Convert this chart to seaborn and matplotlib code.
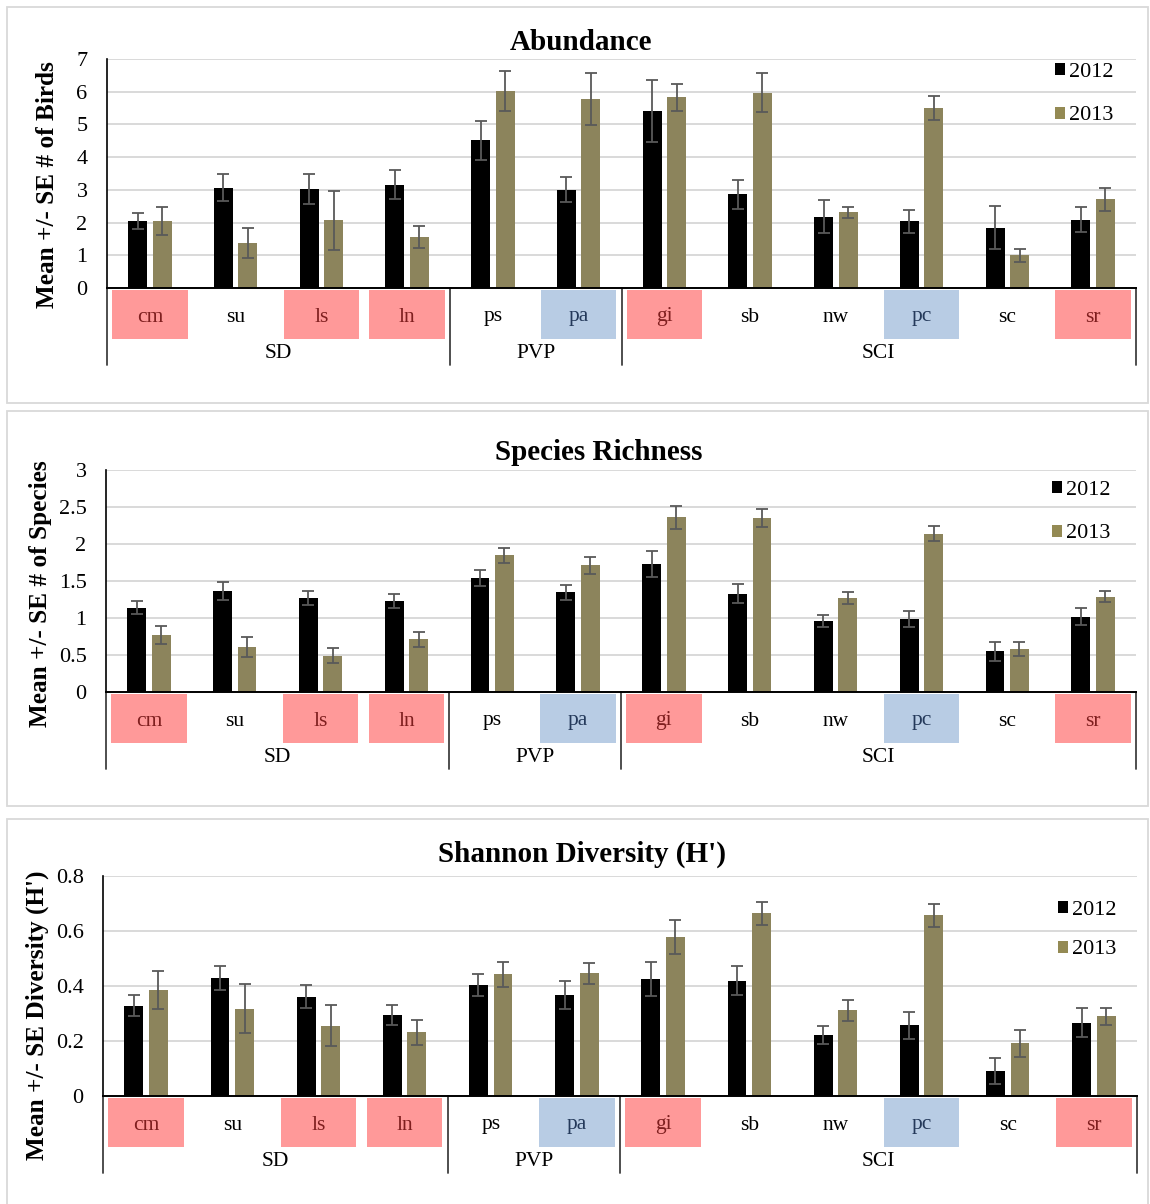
import numpy as np
import pandas as pd
import matplotlib
matplotlib.use("Agg")
import matplotlib.pyplot as plt
import matplotlib.transforms as mtransforms
from matplotlib.patches import Rectangle, Patch
from matplotlib.ticker import FuncFormatter
import seaborn as sns

# ---- data -------------------------------------------------------------
sites = ["cm", "su", "ls", "ln", "ps", "pa", "gi", "sb", "nw", "pc", "sc", "sr"]
regions = ["SD", "PVP", "SCI"]
region_sizes = [4, 2, 6]
years = ["2012", "2013"]
# site label highlight: "r" = red fill, "b" = blue fill, "" = none
site_fill = ["r", "", "r", "r", "", "b", "r", "", "", "b", "", "r"]

abund_2012 = [2.05, 3.07, 3.04, 3.16, 4.51, 3.01, 5.41, 2.86, 2.18, 2.04, 1.84, 2.09]
abund_2012_se = [0.25, 0.41, 0.46, 0.44, 0.61, 0.38, 0.94, 0.44, 0.50, 0.35, 0.66, 0.39]
abund_2013 = [2.05, 1.37, 2.07, 1.57, 6.02, 5.78, 5.83, 5.97, 2.31, 5.50, 1.00, 2.71]
abund_2013_se = [0.42, 0.45, 0.91, 0.34, 0.61, 0.79, 0.42, 0.60, 0.17, 0.36, 0.20, 0.35]

rich_2012 = [1.14, 1.36, 1.27, 1.23, 1.54, 1.35, 1.73, 1.33, 0.96, 0.99, 0.55, 1.02]
rich_2012_se = [0.09, 0.12, 0.09, 0.09, 0.11, 0.10, 0.18, 0.13, 0.08, 0.11, 0.13, 0.12]
rich_2013 = [0.77, 0.61, 0.49, 0.71, 1.85, 1.71, 2.36, 2.35, 1.27, 2.14, 0.58, 1.29]
rich_2013_se = [0.12, 0.14, 0.10, 0.10, 0.10, 0.12, 0.16, 0.12, 0.08, 0.10, 0.09, 0.08]

shan_2012 = [0.328, 0.429, 0.361, 0.295, 0.404, 0.367, 0.426, 0.420, 0.222, 0.257, 0.091, 0.267]
shan_2012_se = [0.038, 0.044, 0.041, 0.037, 0.041, 0.051, 0.063, 0.052, 0.034, 0.049, 0.047, 0.053]
shan_2013 = [0.385, 0.317, 0.256, 0.232, 0.443, 0.446, 0.578, 0.665, 0.311, 0.657, 0.191, 0.290]
shan_2013_se = [0.070, 0.089, 0.074, 0.045, 0.046, 0.039, 0.062, 0.042, 0.039, 0.043, 0.048, 0.031]

# ---- style ------------------------------------------------------------
sns.set_theme(style="white")
plt.rcParams["font.family"] = ["Liberation Serif", "DejaVu Serif"]
plt.rcParams["axes.unicode_minus"] = False
plt.rcParams["text.color"] = "#000000"
plt.rcParams["axes.labelcolor"] = "#000000"
plt.rcParams["ytick.color"] = "#000000"
plt.rcParams["xtick.color"] = "#000000"

BAR_COLORS = {"2012": "#000000", "2013": "#948A54"}
FILL = {"r": "#FF9999", "b": "#B8CCE4"}
FILL_TEXT = {"r": "#7F1F1F", "b": "#24395A", "": "#000000"}
GRID = "#D9D9D9"
ERR = "#595959"

W, H = 1150, 1204
fig = plt.figure(figsize=(W / 100, H / 100), dpi=100)


def px_box(x0, y0, x1, y1):
    """Figure-fraction rectangle from pixel corners (top-left origin)."""
    return [x0 / W, 1 - y1 / H, (x1 - x0) / W, (y1 - y0) / H]


panels = [
    dict(title="Abundance", ylabel="Mean +/- SE # of Birds",
         v12=abund_2012, s12=abund_2012_se, v13=abund_2013, s13=abund_2013_se,
         yticks=np.arange(0, 8, 1), ymax=7,
         frame=(7, 7, 1148, 403), axes=(107, 59, 1136, 288),
         title_xy=(581, 42), ylabel_xy=(48, 185), legend_xy=(1055, 63),
         lspace=1.1),
    dict(title="Species Richness", ylabel="Mean +/- SE # of Species",
         v12=rich_2012, s12=rich_2012_se, v13=rich_2013, s13=rich_2013_se,
         yticks=np.arange(0, 3.01, 0.5), ymax=3,
         frame=(7, 411, 1148, 806), axes=(106, 470, 1136, 692),
         title_xy=(599, 453), ylabel_xy=(41, 594), legend_xy=(1052, 481),
         lspace=1.1),
    dict(title="Shannon Diversity (H')", ylabel="Mean +/- SE Diversity (H')",
         v12=shan_2012, s12=shan_2012_se, v13=shan_2013, s13=shan_2013_se,
         yticks=np.arange(0, 0.81, 0.2), ymax=0.8,
         frame=(7, 819, 1148, 1215), axes=(103, 876, 1137, 1096),
         title_xy=(582, 854), ylabel_xy=(37, 1015), legend_xy=(1058, 901),
         lspace=0.92),
]

for p in panels:
    # light outline around each chart block
    fx0, fy0, fx1, fy1 = p["frame"]
    fig.add_artist(Rectangle((fx0 / W, 1 - fy1 / H), (fx1 - fx0) / W, (fy1 - fy0) / H,
                             transform=fig.transFigure, fill=False,
                             edgecolor=GRID, linewidth=1.3))

    ax0, ay0, ax1, ay1 = p["axes"]
    ax = fig.add_axes(px_box(ax0, ay0, ax1, ay1))
    ax_h = ay1 - ay0  # axes height in pixels

    df = pd.DataFrame({
        "site": sites * 2,
        "year": [years[0]] * len(sites) + [years[1]] * len(sites),
        "value": list(p["v12"]) + list(p["v13"]),
    })
    sns.barplot(data=df, x="site", y="value", hue="year", order=sites,
                hue_order=years, palette=BAR_COLORS, width=0.57, gap=0.23,
                errorbar=None, legend=False, linewidth=0, ax=ax, zorder=3)

    # standard-error whiskers on each bar
    for cont, se in zip(ax.containers, [p["s12"], p["s13"]]):
        xs = [b.get_x() + b.get_width() / 2 for b in cont]
        hs = [b.get_height() for b in cont]
        ax.errorbar(xs, hs, yerr=se, fmt="none", ecolor=ERR, elinewidth=1.3,
                    capsize=4, capthick=1.3, zorder=4)

    ax.set_xlim(-0.5, len(sites) - 0.5)
    ax.set_ylim(0, p["ymax"])
    ax.set_yticks(p["yticks"])
    ax.yaxis.set_major_formatter(FuncFormatter(lambda v, _: f"{v:g}"))
    ax.tick_params(axis="y", length=0, pad=14, labelsize=16, colors="#000000")
    ax.set_xticks([])
    ax.set_xlabel("")
    ax.set_ylabel("")
    ax.yaxis.grid(True, color=GRID, linewidth=1.4)
    ax.set_axisbelow(True)
    for side in ("top", "right"):
        ax.spines[side].set_visible(False)
    ax.spines["left"].set_color("#000000")
    ax.spines["left"].set_linewidth(1.2)
    ax.spines["bottom"].set_color("#000000")
    ax.spines["bottom"].set_linewidth(1.4)
    ax.spines["bottom"].set_zorder(5)

    # multi-level category axis below the bars
    trans = mtransforms.blended_transform_factory(ax.transData, ax.transAxes)
    f = lambda px: -px / ax_h
    for i, (s, fill) in enumerate(zip(sites, site_fill)):
        if fill:
            ax.add_patch(Rectangle((i - 0.44, f(51)), 0.88, f(2) - f(51),
                                   transform=trans, facecolor=FILL[fill],
                                   edgecolor="none", clip_on=False, zorder=1))
        ax.text(i, f(29), s, transform=trans, ha="center", va="center",
                fontsize=15.5, color=FILL_TEXT[fill], clip_on=False)

    bounds = np.concatenate([[0], np.cumsum(region_sizes)]) - 0.5
    for b in bounds:
        ax.plot([b, b], [0, f(77)], transform=trans, color="#404040",
                linewidth=1.3, clip_on=False, zorder=5)
    for r, lo, hi in zip(regions, bounds[:-1], bounds[1:]):
        ax.text((lo + hi) / 2, f(66), r, transform=trans, ha="center",
                va="center", fontsize=15.5, color="#000000", clip_on=False)

    # legend
    handles = [Patch(facecolor=BAR_COLORS[y], edgecolor="none", label=y) for y in years]
    lx, ly = p["legend_xy"]
    ax.legend(handles=handles, loc="upper left",
              bbox_to_anchor=(lx / W, 1 - ly / H), bbox_transform=fig.transFigure,
              frameon=False, fontsize=16, handlelength=0.45, handleheight=0.45,
              handletextpad=0.2, labelspacing=p["lspace"], borderpad=0,
              borderaxespad=0)

    fig.text(p["title_xy"][0] / W, 1 - p["title_xy"][1] / H, p["title"],
             ha="center", va="center", fontsize=21, fontweight="bold")
    fig.text(p["ylabel_xy"][0] / W, 1 - p["ylabel_xy"][1] / H, p["ylabel"],
             ha="center", va="center", rotation=90, fontsize=18.2,
             fontweight="bold")

fig.savefig("out.png", dpi=100, facecolor="white")
